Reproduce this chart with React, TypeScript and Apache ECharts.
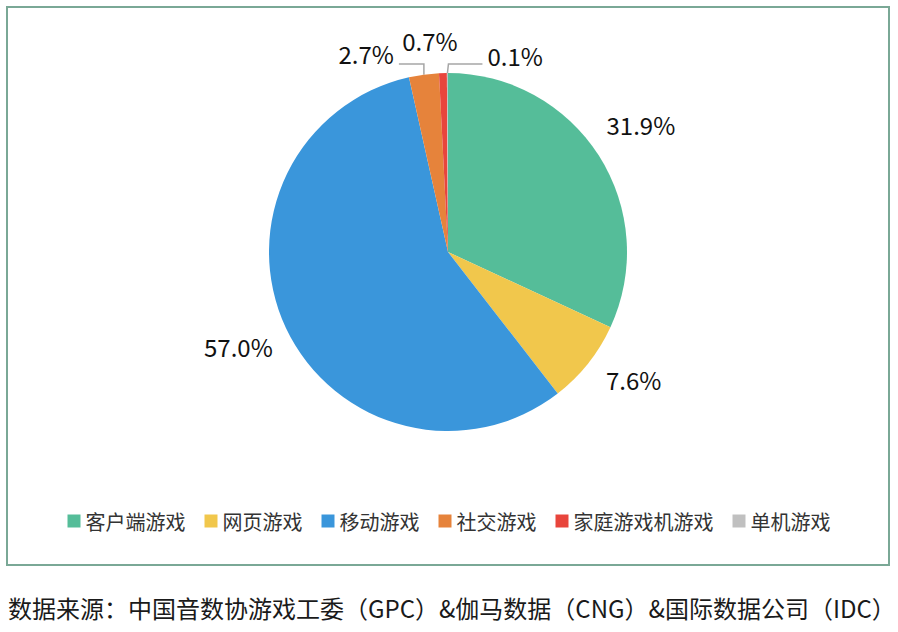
import React, { useEffect, useRef } from "react";
import * as echarts from "echarts";

const categories = ["客户端游戏", "网页游戏", "移动游戏", "社交游戏", "家庭游戏机游戏", "单机游戏"];
const shares = [31.9, 7.6, 57.0, 2.7, 0.7, 0.1];
const colors = ["#55bd99", "#f1c74c", "#3a96db", "#e6833b", "#e8453c", "#c0c0c0"];
const sourceNote = "数据来源：中国音数协游戏工委（GPC）&伽马数据（CNG）&国际数据公司（IDC）";

const FONT = "'Noto Sans CJK SC', 'Noto Sans', sans-serif";
const CX = 448;
const CY = 252;
const R = 179;

// label placement tuning (radial gap from rim, angular nudge in degrees) for big slices
const radialGap = [52, 46, 51];
const angleNudge = [0.8, 4.1, -0.9];

function midAngle(i: number): number {
  const total = shares.reduce((a, b) => a + b, 0);
  let before = 0;
  for (let k = 0; k < i; k++) before += shares[k];
  const mid = (before + shares[i] / 2) / total;
  return Math.PI / 2 - mid * Math.PI * 2;
}

function pointAt(a: number, r: number): [number, number] {
  return [CX + r * Math.cos(a), CY - r * Math.sin(a)];
}

export default function App() {
  const ref = useRef<HTMLDivElement>(null);
  useEffect(() => {
    document.body.style.margin = "0";
    if (!ref.current) return;
    const chart = echarts.init(ref.current, null, { renderer: "svg" });
    const topY = CY - R;
    chart.setOption({
      animation: false,
      backgroundColor: "#ffffff",
      color: colors,
      legend: {
        data: categories,
        left: "center",
        top: 506,
        icon: "rect",
        itemWidth: 13,
        itemHeight: 13,
        itemGap: 19,
        textStyle: { fontSize: 20, color: "#333333", fontFamily: FONT },
      },
      graphic: [
        {
          type: "rect",
          shape: { x: 7, y: 7, width: 882, height: 558 },
          style: { fill: "none", stroke: "#7aa896", lineWidth: 2 },
          silent: true,
        },
        {
          type: "text",
          x: 8,
          y: 607,
          style: {
            text: sourceNote,
            fontSize: 24,
            fontFamily: FONT,
            fill: "#1a1a1a",
            verticalAlign: "middle",
            align: "left",
          },
        },
      ],
      series: [
        {
          type: "pie",
          center: [CX, CY],
          radius: R,
          startAngle: 90,
          clockwise: true,
          avoidLabelOverlap: false,
          itemStyle: { borderWidth: 0 },
          data: categories.map((name, i) => ({
            name,
            value: shares[i],
            labelLine: { show: i === 3 || i === 5 },
          })),
          label: {
            show: true,
            position: "outside",
            formatter: (p: any) => p.value.toFixed(1) + "%",
            fontSize: 24,
            color: "#111111",
            fontFamily: FONT,
          },
          labelLine: {
            show: false,
            length: 10,
            length2: 20,
            lineStyle: { color: "#a6a6a6", width: 1.5 },
          },
          labelLayout: (params: any) => {
            const i = params.dataIndex;
            const a = midAngle(i);
            if (i <= 2) {
              const [x, y] = pointAt(a + (angleNudge[i] * Math.PI) / 180, R + radialGap[i]);
              return { x, y, align: "center", verticalAlign: "middle" };
            }
            const [ax, ay] = pointAt(a, R);
            if (i === 3) {
              const ey = topY - 9;
              const ex = ax - 25;
              return {
                x: ex - 5,
                y: topY - 20,
                align: "right",
                verticalAlign: "middle",
                labelLinePoints: [
                  [ax, ay],
                  [ax, ey],
                  [ex, ey],
                ],
              };
            }
            if (i === 4) {
              return { x: ax - 13, y: topY - 33, align: "center", verticalAlign: "middle" };
            }
            const ey = topY - 9;
            const ex = ax + 35;
            return {
              x: ex + 5,
              y: topY - 18,
              align: "left",
              verticalAlign: "middle",
              labelLinePoints: [
                [ax, ay],
                [ax + 1, ey],
                [ex, ey],
              ],
            };
          },
        },
      ],
    });
    return () => chart.dispose();
  }, []);
  return <div ref={ref} style={{ width: 898, height: 632 }} />;
}
